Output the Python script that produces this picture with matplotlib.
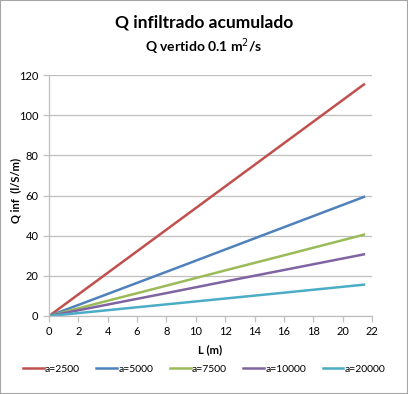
import matplotlib

matplotlib.use("Agg")
import matplotlib.pyplot as plt

plt.rcParams["font.family"] = ["Lato", "DejaVu Sans"]

# L (m) vs accumulated infiltrated flow
L = [0, 4, 8, 12, 16, 21.45]
q_2500 = [0, 21.5, 43.0, 64.5, 86.0, 115.3]
q_5000 = [0, 11.0, 22.0, 33.1, 44.2, 59.3]
q_7500 = [0, 7.6, 15.1, 22.7, 30.2, 40.5]
q_10000 = [0, 5.7, 11.4, 17.2, 22.9, 30.7]
q_20000 = [0, 2.9, 5.8, 8.7, 11.6, 15.6]

labels = ["a=2500", "a=5000", "a=7500", "a=10000", "a=20000"]
series = [q_2500, q_5000, q_7500, q_10000, q_20000]
colors = ["#C0504D", "#4F81BD", "#9BBB59", "#8064A2", "#4BACC6"]

fig = plt.figure(figsize=(4.08, 3.94), dpi=100)
ax = fig.add_axes([49 / 408, 1 - 316 / 394, 323 / 408, 241 / 394])

for y, lab, c in zip(series, labels, colors):
    ax.plot(L, y, color=c, lw=1.8, label=lab)

ax.set_xlim(0, 22)
ax.set_ylim(0, 120)
ax.set_xticks(range(0, 23, 2))
ax.set_yticks(range(0, 121, 20))
ax.grid(axis="y", color="#BFBFBF", lw=0.9)
ax.set_axisbelow(True)
for s in ["top", "right"]:
    ax.spines[s].set_visible(False)
for s in ["left", "bottom"]:
    ax.spines[s].set_color("#BFBFBF")
    ax.spines[s].set_linewidth(0.9)
ax.tick_params(colors="#BFBFBF", labelcolor="black", labelsize=8, length=4, width=0.9)

ax.set_xlabel("L (m)", fontsize=8, fontweight="bold", labelpad=5)
fig.text(16 / 408, 1 - 190 / 394, "Q inf  (l/S/m)", rotation=90, ha="center", va="center",
         fontsize=8, fontweight="bold")

fig.text(0.5, 1 - 22 / 394, "Q infiltrado acumulado", ha="center", va="center",
         fontsize=12.5, fontweight="bold")
fig.text(0.5, 1 - 47 / 394, "Q vertido 0.1 m$^{2}$/s", ha="center", va="center",
         fontsize=10, fontweight="bold")

fig.legend(loc="center", bbox_to_anchor=(0.5, 1 - 369 / 394), ncol=5, frameon=False,
           fontsize=7.5, handlelength=2.0, handletextpad=0.1, columnspacing=1.6)

fig.patches.append(plt.Rectangle((0, 0), 1, 1, transform=fig.transFigure, fill=False,
                                 edgecolor="#A6A6A6", lw=1.5))

fig.savefig("out.png", dpi=100)
